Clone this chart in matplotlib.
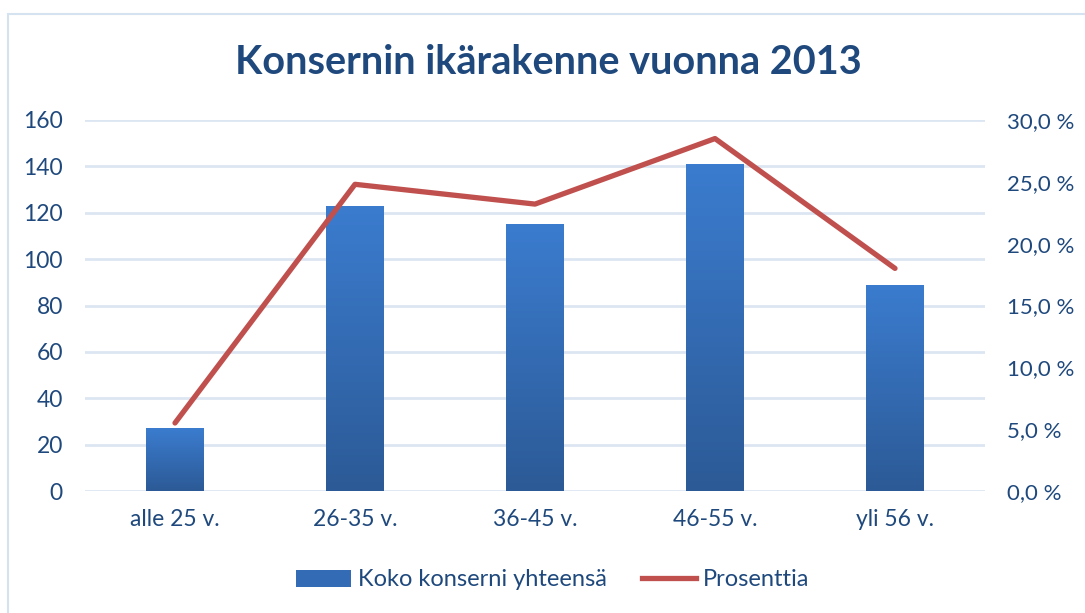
import numpy as np
import matplotlib
matplotlib.use("Agg")
import matplotlib.pyplot as plt
from matplotlib.colors import LinearSegmentedColormap
from matplotlib.patches import Rectangle, Patch
from matplotlib.lines import Line2D

plt.rcParams["font.family"] = ["Lato", "DejaVu Sans"]

categories = ["alle 25 v.", "26-35 v.", "36-45 v.", "46-55 v.", "yli 56 v."]
counts = [27, 123, 115, 141, 89]
percent = [5.5, 24.8, 23.2, 28.5, 18.0]
left_ticks = list(range(0, 161, 20))
right_ticks = [0, 5, 10, 15, 20, 25, 30]

TXT = "#1F497D"
GRID = "#DCE6F2"
LINE = "#C0504D"
grad = LinearSegmentedColormap.from_list("bar", ["#2C5A96", "#3B7CCF"])

fig = plt.figure(figsize=(10.85, 6.13), dpi=100)
fig.patches.append(Rectangle((8 / 1085, -0.1), 1.2, 1 - 14 / 613 + 0.1,
                             transform=fig.transFigure, fill=False,
                             edgecolor="#D5E2F0", lw=1.5))

ax = fig.add_axes([85 / 1085, 1 - 491 / 613, 900 / 1085, 371 / 613])
x = np.arange(len(categories))
bars = ax.bar(x, counts, width=0.32, color="none", zorder=2)
g = np.linspace(0, 1, 256).reshape(-1, 1)
for b in bars:
    x0, w, h = b.get_x(), b.get_width(), b.get_height()
    im = ax.imshow(g, cmap=grad, aspect="auto", origin="lower",
                   extent=[x0, x0 + w, 0, h], zorder=2)
    im.set_clip_path(b)

ax.set_xlim(-0.5, len(categories) - 0.5)
ax.set_ylim(0, 160)
ax.set_yticks(left_ticks)
ax.set_xticks(x)
ax.set_xticklabels(categories)
ax.yaxis.grid(True, color=GRID, lw=2)
ax.set_axisbelow(True)
for s in ax.spines.values():
    s.set_visible(False)
ax.tick_params(length=0, colors=TXT, labelsize=16.5)
ax.tick_params(axis="y", pad=16)
ax.tick_params(axis="x", pad=13)

ax2 = ax.twinx()
ax2.plot(x, percent, color=LINE, lw=3.8, solid_capstyle="round",
         solid_joinstyle="round", zorder=3)
ax2.set_ylim(0, 30)
ax2.set_yticks(right_ticks)
ax2.set_yticklabels([f"{v:.1f} %".replace(".", ",") for v in right_ticks])
for s in ax2.spines.values():
    s.set_visible(False)
ax2.tick_params(length=0, colors=TXT, labelsize=16, pad=16)

fig.text(548 / 1085, 1 - 62 / 613, "Konsernin ikärakenne vuonna 2013",
         ha="center", va="center", fontsize=28.5, fontweight="bold", color=TXT)

handles = [Patch(facecolor="#336BB5", edgecolor="none"),
           Line2D([], [], color=LINE, lw=3.8)]
fig.legend(handles, ["Koko konserni yhteensä", "Prosenttia"],
           loc="center", bbox_to_anchor=(553 / 1085, 1 - 580 / 613),
           ncol=2, frameon=False, fontsize=17, labelcolor=TXT,
           handlelength=2.3, handleheight=0.7, handletextpad=0.3,
           columnspacing=1.5)

fig.savefig("out.png", dpi=100)
